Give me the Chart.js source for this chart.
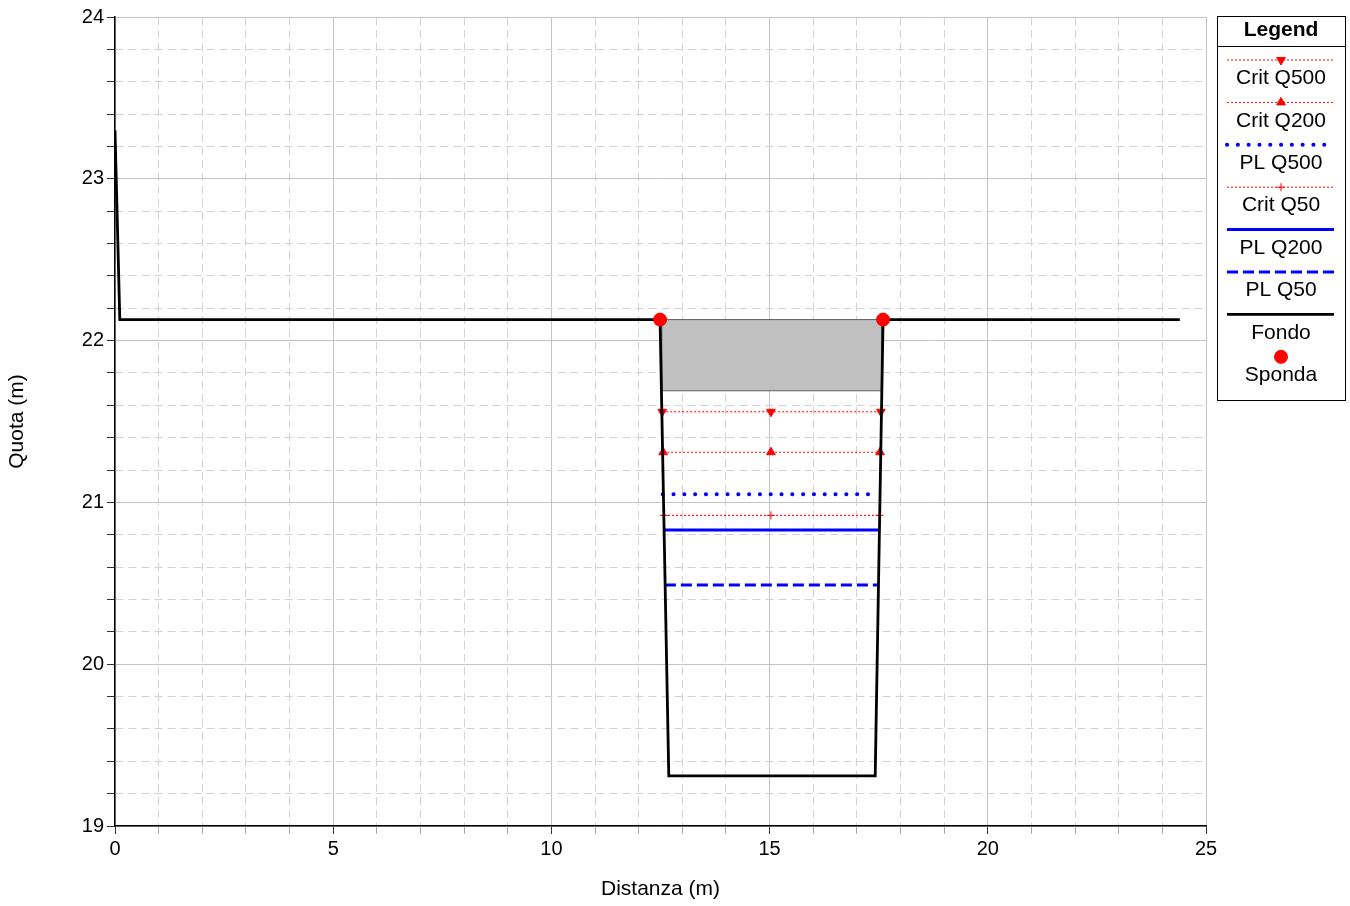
<!DOCTYPE html>
<html>
<head>
<meta charset="utf-8">
<script src="https://cdn.jsdelivr.net/npm/chart.js@4/dist/chart.umd.min.js"></script>
<style>
  html, body { margin: 0; padding: 0; background: #fff; }
  #wrap { width: 1350px; height: 906px; position: relative; }
</style>
</head>
<body>
<div id="wrap"><canvas id="chart" width="1350" height="906"></canvas></div>
<script>
// cross section data (m)
const fondoX = [0, 0.11, 12.49, 12.69, 17.42, 17.60, 24.40]
const fondoY = [23.30, 22.13, 22.13, 19.31, 19.31, 22.13, 22.13]
const spondaX = [12.49, 17.60]
const spondaY = [22.13, 22.13]
const deckX = [12.53, 17.58]
const deckTop = 22.13
const deckBottom = 21.69

const critQ500X = [12.54, 15.03, 17.55]
const critQ500 = 21.56
const critQ200X = [12.56, 15.03, 17.53]
const critQ200 = 21.31
const critQ50X = [12.58, 15.03, 17.52]
const critQ50 = 20.92
const plQ500X = [12.55, 17.35]
const plQ500 = 21.05
const plQ200X = [12.58, 17.51]
const plQ200 = 20.83
const plQ50X = [12.60, 17.49]
const plQ50 = 20.49

const legendOrder = ['Crit Q500', 'Crit Q200', 'PL Q500', 'Crit Q50', 'PL Q200', 'PL Q50', 'Fondo', 'Sponda']

const FONT = 'Liberation Sans, Arial, sans-serif'
const RED = '#ff0000'
const BLUE = '#0000ff'

const pts = (xs, ys) => xs.map((x, i) => ({ x: x, y: Array.isArray(ys) ? ys[i] : ys }))

const deckShape = [
  { x: deckX[0], y: deckTop }, { x: deckX[1], y: deckTop },
  { x: deckX[1], y: deckBottom }, { x: deckX[0], y: deckBottom },
  { x: deckX[0], y: deckTop }
]

const isMajor = (v, step) => Math.abs(v / step - Math.round(v / step)) < 1e-6

// draws the boxed legend to the right of the plot
const boxLegend = {
  id: 'boxLegend',
  afterDraw (chart) {
    const ctx = chart.ctx
    const left = 1217
    const right = 1345
    const top = 16
    const bottom = 400
    const cx = (left + right) / 2
    ctx.save()
    ctx.fillStyle = '#fff'
    ctx.fillRect(left, top, right - left, bottom - top)
    ctx.strokeStyle = '#000'
    ctx.lineWidth = 1
    ctx.setLineDash([])
    ctx.strokeRect(left + 0.5, top + 0.5, right - left, bottom - top)
    ctx.beginPath()
    ctx.moveTo(left, 46.5)
    ctx.lineTo(right, 46.5)
    ctx.stroke()
    ctx.fillStyle = '#000'
    ctx.textAlign = 'center'
    ctx.textBaseline = 'middle'
    ctx.font = 'bold 21px ' + FONT
    ctx.fillText('Legend', cx, 30)

    legendOrder.forEach((name, i) => {
      const ds = chart.data.datasets.find(d => d.label === name)
      const sy = 60 + i * 42.4
      const ty = 78.5 + i * 42.4
      if (ds.showLine !== false) {
        ctx.save()
        ctx.strokeStyle = ds.borderColor
        ctx.lineWidth = ds.borderWidth
        ctx.lineCap = ds.borderCapStyle || 'butt'
        ctx.setLineDash(ds.borderDash || [])
        ctx.beginPath()
        ctx.moveTo(left + 10, sy)
        ctx.lineTo(right - 11, sy)
        ctx.stroke()
        ctx.restore()
      }
      if (ds.pointRadius > 0) {
        ctx.save()
        ctx.fillStyle = ds.pointBackgroundColor
        ctx.strokeStyle = ds.pointBorderColor
        Chart.helpers.drawPoint(ctx, {
          pointStyle: ds.pointStyle,
          radius: ds.pointRadius,
          rotation: ds.pointRotation || 0,
          borderWidth: ds.pointBorderWidth
        }, cx, sy)
        ctx.restore()
      }
      ctx.fillStyle = '#000'
      ctx.font = '21px ' + FONT
      ctx.fillText(name, cx, ty)
    })
    ctx.restore()
  }
}

const critLine = (label, xs, y, style, rot, r) => ({
  label: label,
  data: pts(xs, y),
  showLine: true,
  borderColor: RED,
  borderWidth: 1,
  borderDash: [2, 2],
  pointStyle: style,
  pointRotation: rot,
  pointRadius: r,
  pointBackgroundColor: RED,
  pointBorderColor: RED,
  pointBorderWidth: 1
})

const plLine = (label, xs, y, dash, cap, width) => ({
  label: label,
  data: pts(xs, y),
  showLine: true,
  borderColor: BLUE,
  borderWidth: width,
  borderDash: dash,
  borderCapStyle: cap,
  pointRadius: 0
})

new Chart(document.getElementById('chart'), {
  type: 'scatter',
  data: {
    datasets: [
      {
        label: 'Sponda',
        data: pts(spondaX, spondaY),
        showLine: false,
        pointStyle: 'circle',
        pointRadius: 6.5,
        pointBackgroundColor: RED,
        pointBorderColor: RED,
        pointBorderWidth: 1
      },
      {
        label: 'Fondo',
        data: pts(fondoX, fondoY),
        showLine: true,
        borderColor: '#000',
        borderWidth: 2.8,
        pointRadius: 0
      },
      critLine('Crit Q500', critQ500X, critQ500, 'triangle', 180, 5),
      critLine('Crit Q200', critQ200X, critQ200, 'triangle', 0, 5),
      critLine('Crit Q50', critQ50X, critQ50, 'cross', 0, 4),
      plLine('PL Q500', plQ500X, plQ500, [0.1, 10.7], 'round', 4),
      plLine('PL Q200', plQ200X, plQ200, [], 'butt', 3),
      plLine('PL Q50', plQ50X, plQ50, [11, 5], 'butt', 3),
      {
        label: 'Impalcato',
        data: deckShape,
        showLine: true,
        fill: 'shape',
        backgroundColor: '#c0c0c0',
        borderColor: '#606060',
        borderWidth: 1,
        pointRadius: 0
      }
    ]
  },
  options: {
    responsive: false,
    animation: false,
    events: [],
    elements: { line: { tension: 0 } },
    layout: { padding: { top: 17, right: 144, left: 0, bottom: 0 } },
    plugins: {
      legend: { display: false },
      tooltip: { enabled: false }
    },
    scales: {
      x: {
        type: 'linear',
        min: 0,
        max: 25,
        afterFit: s => { s.height = 80 },
        ticks: {
          stepSize: 1,
          autoSkip: false,
          maxRotation: 0,
          padding: 3,
          color: '#000',
          font: { family: FONT, size: 20 },
          callback: v => isMajor(v, 5) ? String(Math.round(v)) : ''
        },
        grid: {
          color: c => isMajor(c.tick.value, 5) ? '#c4c4c4' : '#d2d2d2',
          lineWidth: 1,
          tickLength: 8,
          tickColor: c => isMajor(c.tick.value, 5) ? '#333' : '#aaa'
        },
        border: {
          color: '#000',
          width: 1.5,
          dash: c => (c.tick && !isMajor(c.tick.value, 5)) ? [8, 5] : []
        },
        title: {
          display: true,
          text: 'Distanza (m)',
          color: '#000',
          padding: 4,
          font: { family: FONT, size: 21 }
        }
      },
      y: {
        type: 'linear',
        min: 19,
        max: 24,
        afterFit: s => { s.width = 115 },
        ticks: {
          stepSize: 0.2,
          autoSkip: false,
          padding: 3,
          color: '#000',
          font: { family: FONT, size: 20 },
          callback: v => isMajor(v, 1) ? String(Math.round(v)) : ''
        },
        grid: {
          color: c => isMajor(c.tick.value, 1) ? '#c4c4c4' : '#d2d2d2',
          lineWidth: 1,
          tickLength: 8,
          tickColor: '#333'
        },
        border: {
          color: '#000',
          width: 1.5,
          dash: c => (c.tick && !isMajor(c.tick.value, 1)) ? [8, 5] : []
        },
        title: {
          display: true,
          text: 'Quota (m)',
          color: '#000',
          padding: 5,
          font: { family: FONT, size: 21 }
        }
      }
    }
  },
  plugins: [boxLegend]
})
</script>
</body>
</html>
